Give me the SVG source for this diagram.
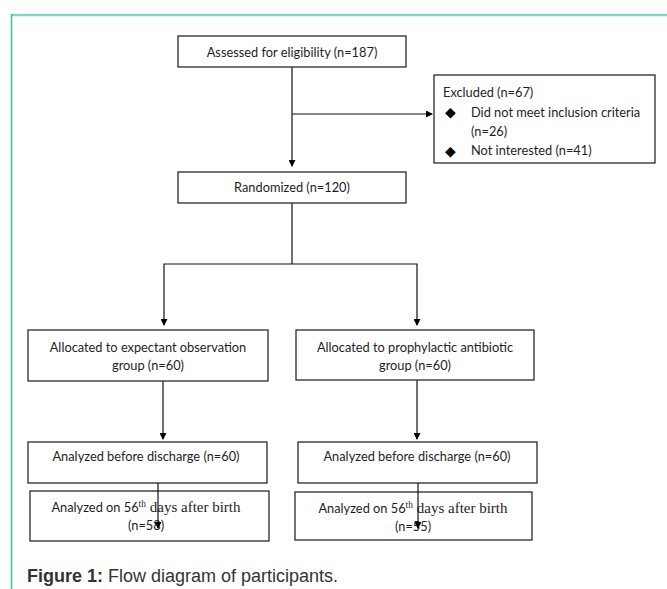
<svg xmlns="http://www.w3.org/2000/svg" width="667" height="589" viewBox="0 0 667 589">
<style>
.box{fill:#fff;stroke:#2a2a2a;stroke-width:1.3}
.t{font-family:Lato,"Liberation Sans",sans-serif;font-size:12.8px;fill:#1e1e1e}
.c{text-anchor:middle}
.sr{font-family:"Liberation Serif",serif;font-size:15px}
.sup{font-family:"Liberation Serif",serif;font-size:9.5px}
.bul{font-family:"DejaVu Sans",sans-serif;font-size:14px;fill:#000}
.ln{fill:none;stroke:#111;stroke-width:1.2}
.cap{font-family:"Liberation Sans",Arial,sans-serif;font-size:18px;fill:#333}
</style>
<defs>
<marker id="ah" markerUnits="userSpaceOnUse" markerWidth="7" markerHeight="7" refX="6" refY="3.5" orient="auto">
<path d="M0,0 L7,3.5 L0,7 z" fill="#000"/>
</marker>
</defs>
<rect width="667" height="589" fill="#fff"/>
<g id="frame">
<line x1="11" y1="15" x2="667" y2="15" stroke="#84d6c8" stroke-width="2.5"/>
<line x1="11.5" y1="14" x2="11.5" y2="589" stroke="#3dbd9e" stroke-width="1.5"/>
</g>
<g id="connectors">
<path class="ln" d="M292,67 V166" marker-end="url(#ah)"/>
<path class="ln" d="M292,114 H432" marker-end="url(#ah)"/>
<path class="ln" d="M292,203 V264"/>
<path class="ln" d="M292,264 H164 V325" marker-end="url(#ah)"/>
<path class="ln" d="M292,264 H417 V325" marker-end="url(#ah)"/>
<path class="ln" d="M163,381 V439" marker-end="url(#ah)"/>
<path class="ln" d="M417,380 V439" marker-end="url(#ah)"/>
</g>
<g id="assessed">
<rect class="box" x="178" y="36" width="228" height="31"/>
<text class="t c" x="292" y="56.5">Assessed for eligibility (n=187)</text>
</g>
<g id="excluded">
<rect class="box" x="434" y="75" width="221" height="88"/>
<text class="t" x="443" y="96.5">Excluded (n=67)</text>
<text class="bul" x="445" y="117">◆</text>
<text class="t" x="471" y="116.5">Did not meet inclusion criteria</text>
<text class="t" x="471" y="136">(n=26)</text>
<text class="bul" x="445" y="155.5">◆</text>
<text class="t" x="471" y="155">Not interested (n=41)</text>
</g>
<g id="randomized">
<rect class="box" x="178" y="172" width="228" height="31"/>
<text class="t c" x="292" y="191.5">Randomized (n=120)</text>
</g>
<g id="alloc-expectant">
<rect class="box" x="28" y="330" width="240" height="51"/>
<text class="t c" x="148" y="351.5">Allocated to expectant observation</text>
<text class="t c" x="148" y="369.5">group (n=60)</text>
</g>
<g id="alloc-prophylactic">
<rect class="box" x="296" y="330" width="238" height="50"/>
<text class="t c" x="415" y="351.5">Allocated to prophylactic antibiotic</text>
<text class="t c" x="415" y="369.5">group (n=60)</text>
</g>
<g id="discharge-left">
<rect class="box" x="28" y="442" width="239" height="41"/>
<text class="t c" x="146" y="461">Analyzed before discharge (n=60)</text>
</g>
<g id="discharge-right">
<rect class="box" x="298" y="442" width="239" height="41"/>
<text class="t c" x="417" y="461">Analyzed before discharge (n=60)</text>
</g>
<g id="day56-left">
<rect class="box" x="30" y="491" width="239" height="50"/>
<text class="t c" x="146" y="511.5">Analyzed on 56<tspan class="sup" dy="-5">th</tspan><tspan class="sr" dy="5"> days after birth</tspan></text>
<text class="t c" x="146" y="530">(n=58)</text>
</g>
<g id="day56-right">
<rect class="box" x="295" y="492" width="237" height="48"/>
<text class="t c" x="413" y="513">Analyzed on 56<tspan class="sup" dy="-5">th</tspan><tspan class="sr" dy="5"> days after birth</tspan></text>
<text class="t c" x="413" y="531">(n=55)</text>
</g>
<g id="lower-arrows">
<path class="ln" d="M158,483 V528" marker-end="url(#ah)"/>
<path class="ln" d="M418,483 V528" marker-end="url(#ah)"/>
</g>
<text class="cap" x="27" y="582"><tspan font-weight="bold">Figure 1:</tspan> Flow diagram of participants.</text>
</svg>
